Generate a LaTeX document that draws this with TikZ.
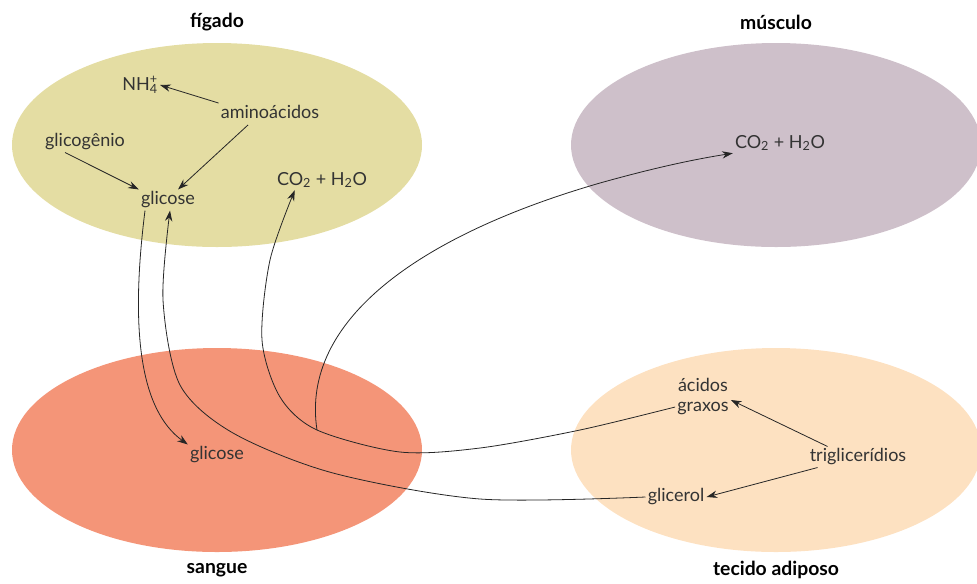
\documentclass[tikz,border=0pt]{standalone}
\usepackage{fontspec}
\setmainfont{Lato}
\usepackage{xcolor}
\usepackage{tikz}
\usetikzlibrary{
    positioning,
    arrows.meta,
    shapes.geometric,
    calc
}
\definecolor{figadocol}{RGB}{228,221,163}
\definecolor{musculocol}{RGB}{206,192,202}
\definecolor{sanguecol}{RGB}{244,149,120}
\definecolor{adiposocol}{RGB}{253,225,193}
\tikzset{
    organ/.style={
        ellipse, draw=none, inner sep=0pt,
        minimum width=307.5pt, minimum height=153pt
    },
    organtitle/.style={
        font=\fontsize{14.5}{16}\selectfont\bfseries, text=black
    },
    metab/.style={
        inner sep=1.5pt, align=center,
        font=\fontsize{13.5}{15}\selectfont, text=black!80
    },
    arrow/.style={
        -{Stealth[length=8pt,width=5.5pt]}, line width=0.6pt, draw=black!85
    }
}

\begin{document}
\begin{tikzpicture}[x=0.75pt, y=-0.75pt]

    \useasboundingbox (0,0) rectangle (977,583);

    % Organs
    \node[organ, fill=figadocol] (figado) at (217,145) {};
    \node[organ, fill=musculocol] (musculo) at (776,145) {};
    \node[organ, fill=sanguecol] (sangue) at (217,450) {};
    \node[organ, fill=adiposocol] (adiposo) at (776,450) {};

    % Titles
    \node[organtitle] (t_figado) at (217,22) {fígado};
    \node[organtitle] (t_musculo) at (776,22) {músculo};
    \node[organtitle] (t_sangue) at (217,570) {sangue};
    \node[organtitle] (t_adiposo) at (776,570) {tecido adiposo};

    % Liver
    \node[metab] (nh4) at (140,85) {NH\rlap{\textsuperscript{+}}\textsubscript{4}};
    \node[metab] (amino) at (270,112) {aminoácidos};
    \node[metab] (glicogenio) at (85,142) {glicogênio};
    \node[metab] (glic_f) at (168,200) {glicose};
    \node[metab] (co2_f) at (322,180) {CO\textsubscript{2} + H\textsubscript{2}O};

    % Muscle
    \node[metab] (co2_m) at (780,143) {CO\textsubscript{2} + H\textsubscript{2}O};

    % Blood
    \node[metab] (glic_s) at (217,455) {glicose};

    % Adipose tissue
    \node[metab] (acidos) at (703,397) {ácidos\\graxos};
    \node[metab] (trig) at (858,457) {triglicerídios};
    \node[metab] (glicerol) at (676,497) {glicerol};
    \coordinate (branch) at (317,430);
    \coordinate (bend) at (600,183);

    % Arrows inside the organs
    \draw[arrow] (amino.north west) -- (nh4.east);
    \draw[arrow] ($(glicogenio.south)+(-20,0)$) -- (glic_f.north west);
    \draw[arrow] ($(amino.south)+(-22,4)$) -- ($(glic_f.north)+(10,0)$);
    \draw[arrow] ($(trig.north west)+(20,0)$) -- ($(acidos.east)+(0,3)$);
    \draw[arrow] ($(trig.south west)+(10,0)$) -- (glicerol.east);

    % Arrows between the organs
    \draw[arrow] ($(glic_f.south)+(-23,0)$) .. controls (130,330) and (140,410) .. (glic_s.north west);
    \draw[arrow] plot[smooth] coordinates {(glicerol.west) (480,499) (333,473) (233,433) (180,385) (163,300) ($(glic_f.south)+(2,0)$)};
    \draw[arrow] plot[smooth] coordinates {($(acidos.west)+(0,10)$) (580,430) (480,448) (400,452) (branch) (280,397) (262,340) (270,260) ($(co2_f.south west)+(20,0)$)};
    \draw[arrow] (branch) .. controls (300,320) and (420,235) .. (bend)
        .. controls (650,169) and (690,160) .. (co2_m.south west);

\end{tikzpicture}
\end{document}
